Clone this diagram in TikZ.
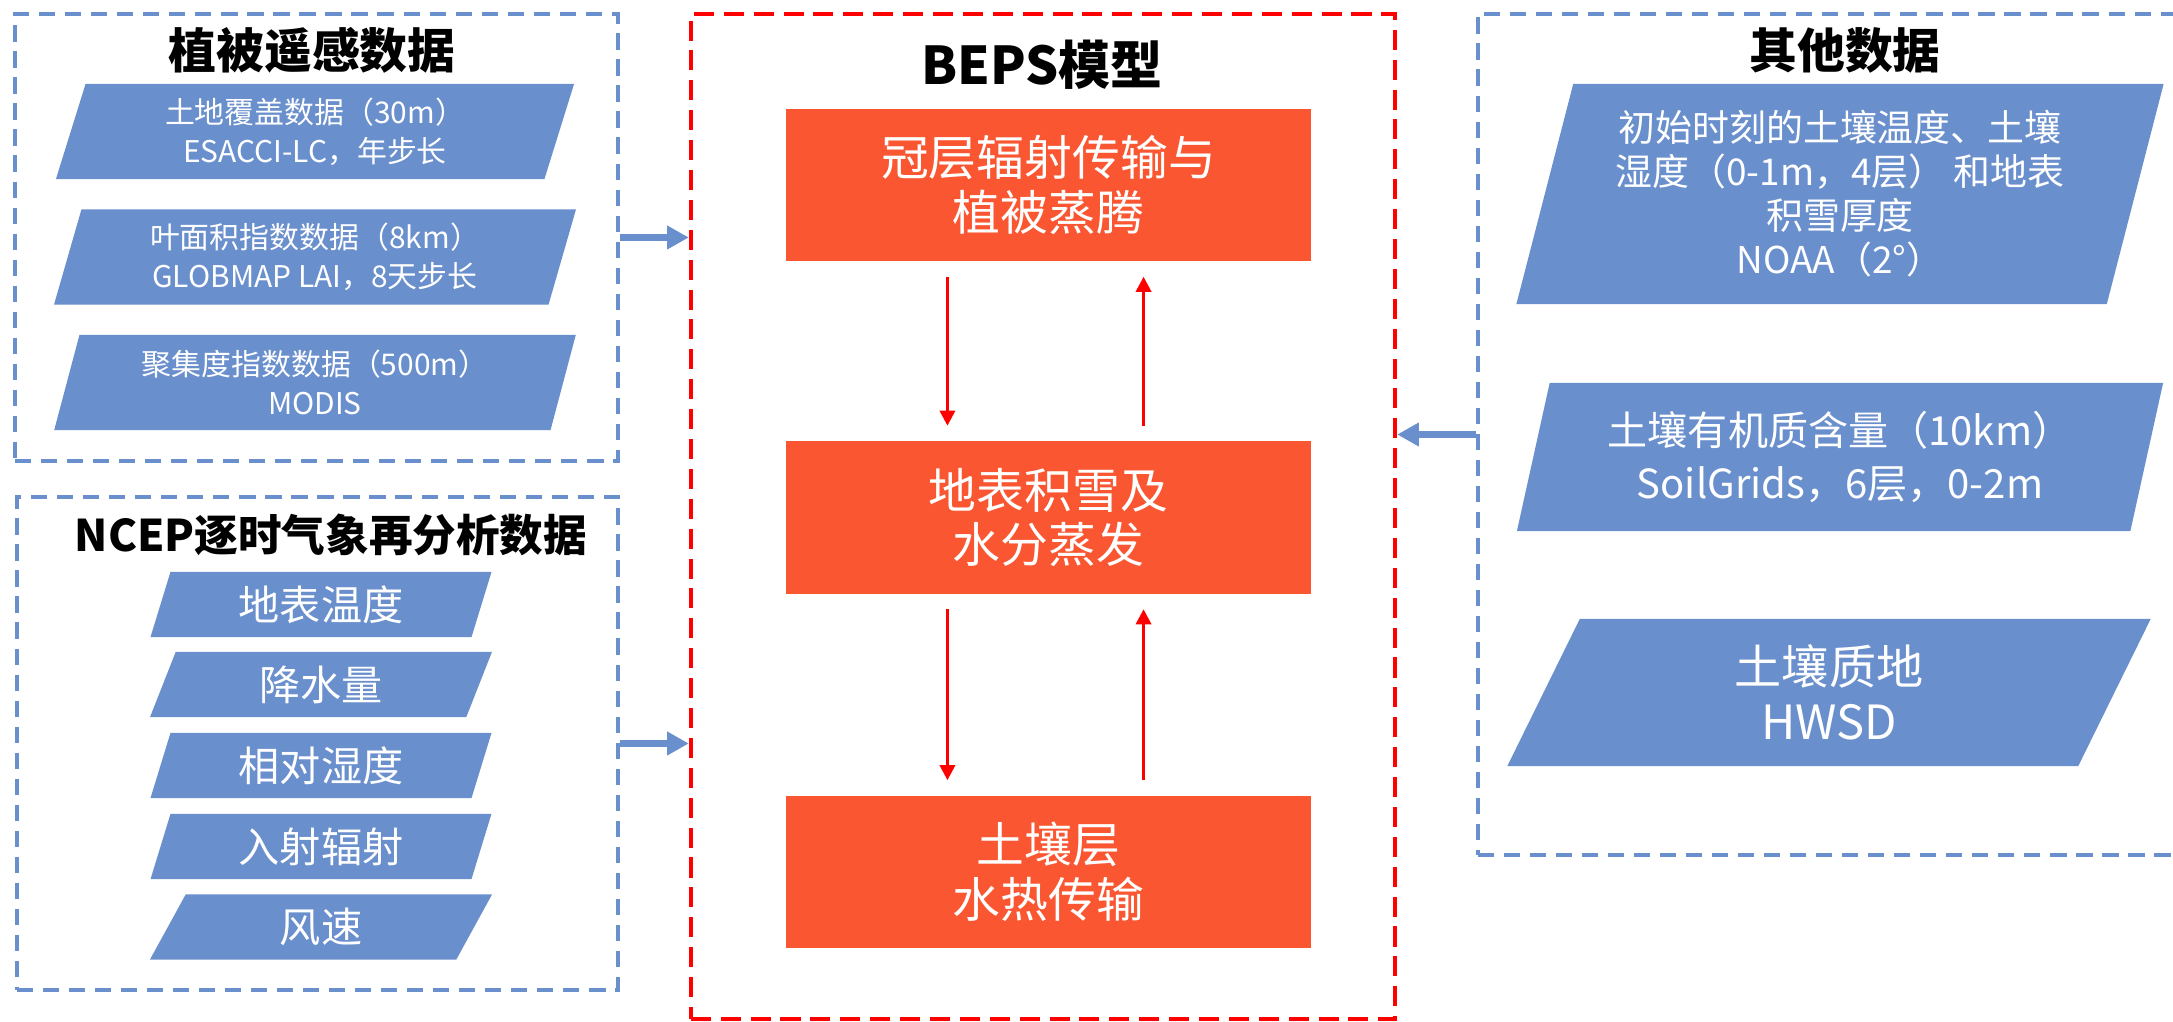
\documentclass[tikz,border=0pt]{standalone}
\usepackage{fontspec}
\setmainfont{Noto Sans CJK SC}
\usetikzlibrary{arrows.meta,shapes.geometric}

\definecolor{datablue}{RGB}{106,143,205}
\definecolor{procorange}{RGB}{249,86,49}

\begin{document}
\begin{tikzpicture}[x=0.01cm, y=-0.01cm,
    every node/.style = {inner sep=0pt, align=center},
    bluegroup/.style = {draw=datablue, line width=1pt, dash pattern=on 4.6pt off 2.8pt},
    redgroup/.style = {draw=red, line width=1.1pt, dash pattern=on 5.7pt off 2.8pt},
    grouptitle/.style = {font=\fontsize{13.6}{16}\selectfont\bfseries},
    datapara/.style = {trapezium, trapezium left angle=74, trapezium right angle=106,
        trapezium stretches=true, fill=datablue, text=white},
    smallpara/.style = {datapara, minimum width=5.22cm, minimum height=0.95cm,
        font=\fontsize{8.5}{11}\selectfont},
    metpara/.style = {datapara, minimum width=3.42cm, minimum height=0.65cm,
        font=\fontsize{11.7}{14}\selectfont},
    process/.style = {rectangle, fill=procorange, text=white, minimum width=5.25cm,
        minimum height=1.52cm, font=\fontsize{13.6}{15.6}\selectfont},
    feed/.style = {-{Triangle[width=6.4pt,length=6.2pt]}, datablue, line width=2pt},
    flux/.style = {-{Triangle[width=4.3pt,length=4.3pt]}, red, line width=0.9pt,
        shorten <=0.15cm, shorten >=0.15cm}]
    \clip (0,0) rectangle (2173,1022);
    \fill[white] (0,0) rectangle (2173,1022);

    \node[bluegroup, minimum width=6.03cm, minimum height=4.47cm] (rsbox) at (316.5,237.5) {};
    \node[bluegroup, minimum width=6.01cm, minimum height=4.93cm] (ncepbox) at (317.5,743.5) {};
    \node[redgroup, minimum width=7.04cm, minimum height=10.05cm] (beps) at (1043,516.5) {};
    \node[bluegroup, minimum width=7.22cm, minimum height=8.41cm] (other) at (1839,434.5) {};

    \node[grouptitle] (rstitle) at (312,50) {植被遥感数据};
    \node[grouptitle, font=\fontsize{12.4}{15}\selectfont\bfseries] (nceptitle) at (331,535) {NCEP逐时气象再分析数据};
    \node[grouptitle, font=\fontsize{14.8}{17}\selectfont\bfseries] (bepstitle) at (1042,65) {BEPS模型};
    \node[grouptitle] (othertitle) at (1845,50) {其他数据};

    \node[smallpara] (landcover) at (315,131.5) {土地覆盖数据（30m）\\ESACCI-LC，年步长};
    \node[smallpara] (lai) at (315,257) {叶面积指数数据（8km）\\GLOBMAP LAI，8天步长};
    \node[smallpara] (clumping) at (315,382.5) {聚集度指数数据（500m）\\MODIS};

    \node[metpara] (tsurf) at (321,604.5) {地表温度};
    \node[metpara] (precip) at (321,684.5) {降水量};
    \node[metpara] (rhum) at (321,765.5) {相对湿度};
    \node[metpara] (rad) at (321,846.5) {入射辐射};
    \node[metpara] (wind) at (321,927) {风速};

    \node[datapara, minimum width=6.47cm, minimum height=2.2cm, font=\fontsize{10.5}{12.5}\selectfont]
        (initial) at (1840,194) {初始时刻的土壤温度、土壤\\湿度（0-1m，4层） 和地表\\积雪厚度\\NOAA（2°）};
    \node[datapara, minimum width=6.47cm, minimum height=1.48cm, font=\fontsize{11.4}{15}\selectfont]
        (organic) at (1840,457) {土壤有机质含量（10km）\\SoilGrids，6层，0-2m};
    \node[datapara, minimum width=6.46cm, minimum height=1.47cm, font=\fontsize{13.4}{15.6}\selectfont]
        (texture) at (1829,692.5) {土壤质地\\HWSD};

    \node[process] (canopy) at (1048.5,185) {冠层辐射传输与\\植被蒸腾};
    \node[process] (snow) at (1048.5,517.5) {地表积雪及\\水分蒸发};
    \node[process] (soil) at (1048.5,872) {土壤层\\水热传输};

    \draw[flux] ([xshift=-1.01cm]canopy.south) -- ([xshift=-1.01cm]snow.north);
    \draw[flux] ([xshift=0.95cm]snow.north) -- ([xshift=0.95cm]canopy.south);
    \draw[flux] ([xshift=-1.01cm]snow.south) -- ([xshift=-1.01cm]soil.north);
    \draw[flux] ([xshift=0.95cm]soil.north) -- ([xshift=0.95cm]snow.south);

    \draw[feed] (rsbox.east) -- (rsbox.east -| beps.west);
    \draw[feed] (ncepbox.east) -- (ncepbox.east -| beps.west);
    \draw[feed] (other.west) -- (other.west -| beps.east);
\end{tikzpicture}
\end{document}
